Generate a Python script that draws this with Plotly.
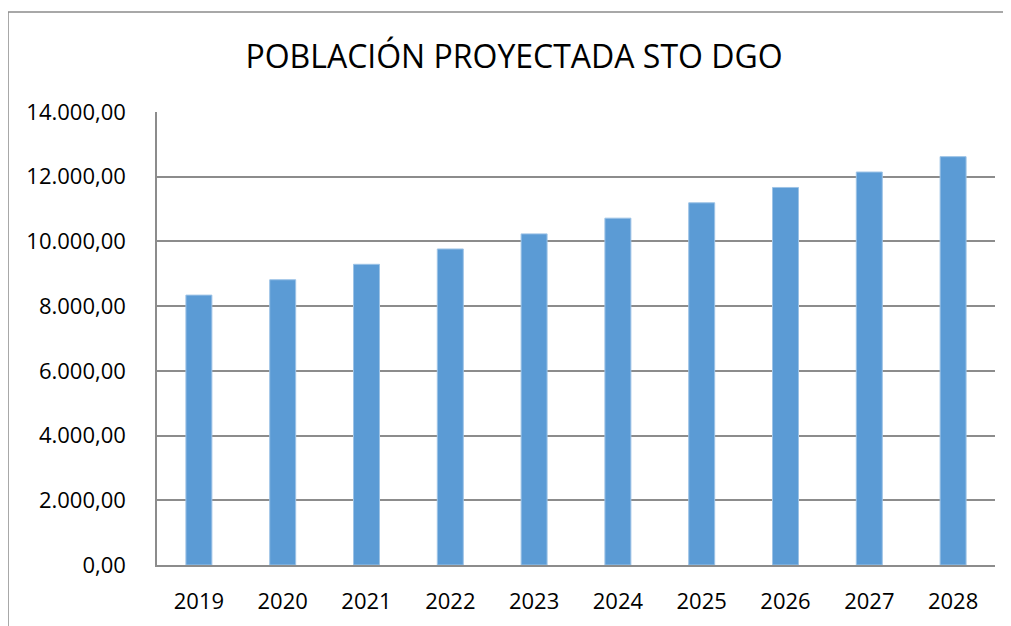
import plotly.graph_objects as go

# ------------------------------------------------------------------
# Data
# ------------------------------------------------------------------
years = ["2019", "2020", "2021", "2022", "2023", "2024", "2025", "2026", "2027", "2028"]
population = [8341, 8816, 9293, 9767, 10233, 10719, 11194, 11668, 12145, 12620]
y_ticks = [0, 2000, 4000, 6000, 8000, 10000, 12000, 14000]

TITLE = "POBLACIÓN PROYECTADA STO DGO"
BAR_COLOR = "#5b9bd5"
GRID_COLOR = "#8c8c8c"
FONT = "Open Sans, Lato, sans-serif"

# the page body has a default 8px margin, so the figure is shrunk by that
PAGE_OFFSET = 8
W, H = 1011 - PAGE_OFFSET, 626 - PAGE_OFFSET

fig = go.Figure()

fig.add_trace(
    go.Bar(
        x=years,
        y=population,
        marker=dict(color=BAR_COLOR, line=dict(color="#9dc3e6", width=1)),
        hoverinfo="x+y",
    )
)

# outer chart frame (left + top edges visible, rest runs off the page)
fig.add_shape(
    type="rect",
    xref="paper", yref="paper",
    x0=-0.1778, x1=1.2, y0=-0.3, y1=1.2208,
    line=dict(color="#8c8c8c", width=1.5),
    layer="below",
)

fig.update_layout(
    width=W,
    height=H,
    title=dict(
        text=TITLE,
        x=(514 - PAGE_OFFSET) / W, xref="container", xanchor="center",
        y=1 - (57 - PAGE_OFFSET) / H, yref="container", yanchor="middle",
        font=dict(family=FONT, size=32, color="#000000"),
    ),
    separators=",.",
    plot_bgcolor="white",
    paper_bgcolor="white",
    bargap=0.69,
    showlegend=False,
    margin=dict(l=157 - PAGE_OFFSET, r=16, t=112 - PAGE_OFFSET, b=61, autoexpand=False),
    font=dict(family=FONT, size=22, color="#000000"),
)

fig.update_xaxes(
    showgrid=False,
    showline=True,
    linecolor=GRID_COLOR,
    linewidth=1.5,
    ticks="",
    tickfont=dict(family=FONT, size=22),
    ticklabelstandoff=16,
    automargin=False,
)

fig.update_yaxes(
    range=[0, 14000],
    tickvals=y_ticks,
    tickformat=",.2f",
    showgrid=True,
    gridcolor=GRID_COLOR,
    gridwidth=1.5,
    showline=True,
    linecolor=GRID_COLOR,
    linewidth=1.5,
    zeroline=False,
    ticks="",
    tickfont=dict(family=FONT, size=22),
    ticklabelstandoff=25,
    automargin=False,
)

fig.write_html("out.html")
